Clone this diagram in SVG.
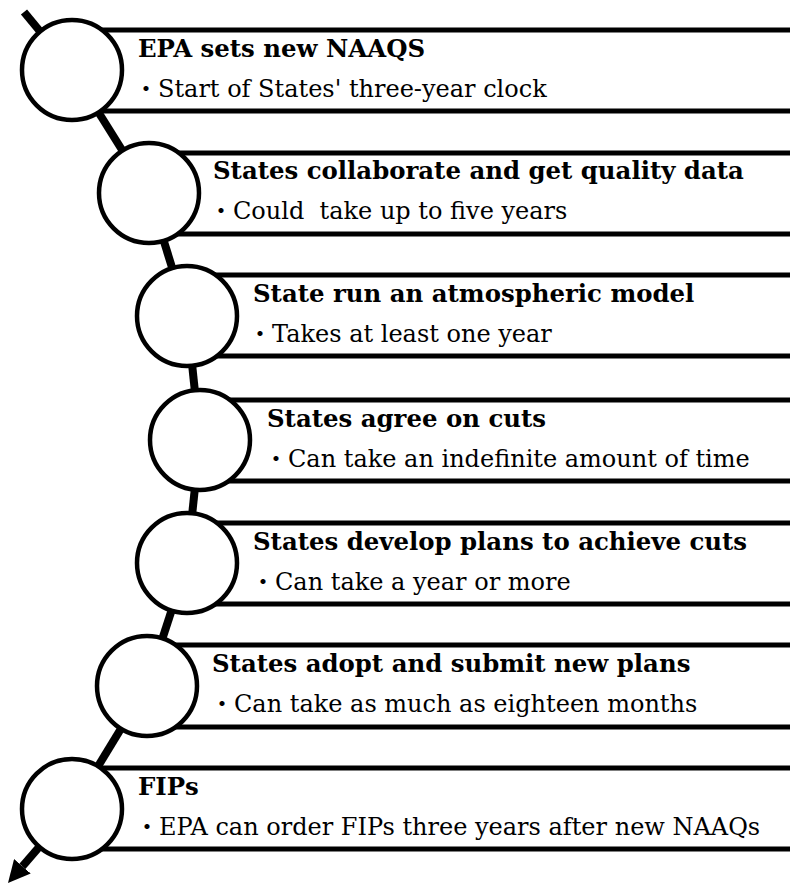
<svg xmlns="http://www.w3.org/2000/svg" width="790" height="884" viewBox="0 0 790 884">
<defs>
<style>
.bar{stroke:#000;stroke-width:5;fill:none}
.ring{fill:#fff;stroke:#000;stroke-width:4.5}
.spine{stroke:#000;stroke-width:8;fill:none}
.t{font-family:"DejaVu Serif","Liberation Serif","Noto Sans CJK JP",serif;font-size:24.4px;font-weight:bold;fill:#000}
.s{font-family:"DejaVu Serif","Liberation Serif","Noto Sans CJK JP",serif;font-size:24px;font-weight:normal;fill:#000;white-space:pre}
</style>
<marker id="ah" markerUnits="userSpaceOnUse" markerWidth="22" markerHeight="22" viewBox="0 0 22 22" refX="0" refY="11" orient="auto">
<path d="M0,0 L22,11 L0,22 z" fill="#000"/>
</marker>
</defs>
<rect width="790" height="884" fill="#fff"/>
<g id="connectors">
<path class="spine" d="M24,12 L72,70"/>
<path class="spine" d="M72,70 L149,193"/>
<path class="spine" d="M149,193 L187,316"/>
<path class="spine" d="M187,316 L200,440"/>
<path class="spine" d="M200,440 L187,563"/>
<path class="spine" d="M187,563 L147,686"/>
<path class="spine" d="M147,686 L72,809"/>
<path class="spine" d="M72,809 L22.4,866.3" marker-end="url(#ah)"/>
</g>
<g id="n1">
<line class="bar" x1="72" y1="30" x2="790" y2="30"/>
<line class="bar" x1="72" y1="111" x2="790" y2="111"/>
<circle class="ring" cx="72" cy="70" r="50"/>
<text class="t" x="138" y="57">EPA sets new NAAQS</text>
<text class="s" x="134" y="97">・Start of States' three-year clock</text>
</g>
<g id="n2">
<line class="bar" x1="149" y1="153" x2="790" y2="153"/>
<line class="bar" x1="149" y1="234" x2="790" y2="234"/>
<circle class="ring" cx="149" cy="193" r="50"/>
<text class="t" x="213" y="179">States collaborate and get quality data</text>
<text class="s" x="209" y="219" xml:space="preserve">・Could  take up to five years</text>
</g>
<g id="n3">
<line class="bar" x1="187" y1="275" x2="790" y2="275"/>
<line class="bar" x1="187" y1="356" x2="790" y2="356"/>
<circle class="ring" cx="187" cy="316" r="50"/>
<text class="t" x="253" y="302">State run an atmospheric model</text>
<text class="s" x="248" y="342">・Takes at least one year</text>
</g>
<g id="n4">
<line class="bar" x1="200" y1="400" x2="790" y2="400"/>
<line class="bar" x1="200" y1="481" x2="790" y2="481"/>
<circle class="ring" cx="200" cy="440" r="50"/>
<text class="t" x="267" y="427">States agree on cuts</text>
<text class="s" x="264" y="467">・Can take an indefinite amount of time</text>
</g>
<g id="n5">
<line class="bar" x1="187" y1="523" x2="790" y2="523"/>
<line class="bar" x1="187" y1="604" x2="790" y2="604"/>
<circle class="ring" cx="187" cy="563" r="50"/>
<text class="t" x="253" y="550">States develop plans to achieve cuts</text>
<text class="s" x="251" y="590">・Can take a year or more</text>
</g>
<g id="n6">
<line class="bar" x1="147" y1="645" x2="790" y2="645"/>
<line class="bar" x1="147" y1="727" x2="790" y2="727"/>
<circle class="ring" cx="147" cy="686" r="50"/>
<text class="t" x="212" y="672">States adopt and submit new plans</text>
<text class="s" x="210" y="712">・Can take as much as eighteen months</text>
</g>
<g id="n7">
<line class="bar" x1="72" y1="768" x2="790" y2="768"/>
<line class="bar" x1="72" y1="849" x2="790" y2="849"/>
<circle class="ring" cx="72" cy="809" r="50"/>
<text class="t" x="138" y="795">FIPs</text>
<text class="s" x="135" y="835">・EPA can order FIPs three years after new NAAQs</text>
</g>
</svg>
